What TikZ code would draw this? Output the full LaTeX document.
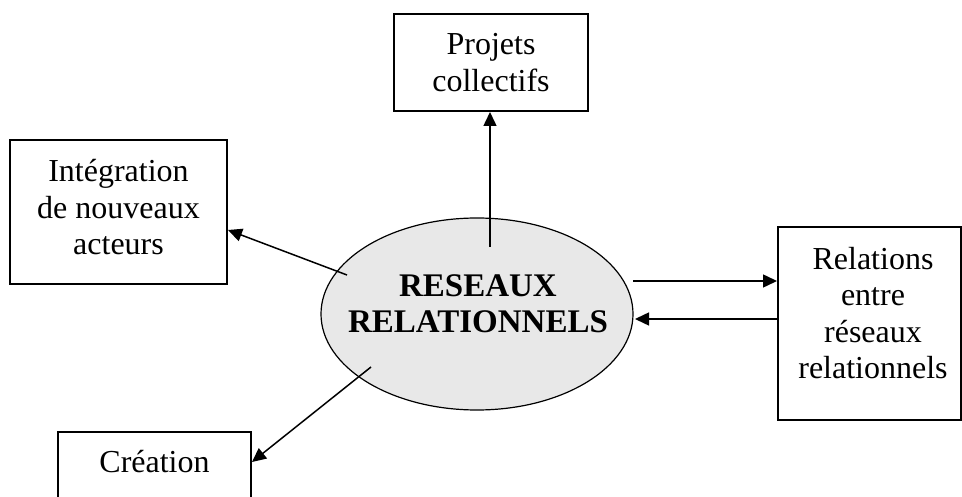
\documentclass[tikz,border=0pt]{standalone}
\usepackage{fontspec}
\setmainfont{Liberation Serif}
\usetikzlibrary{arrows.meta,shapes.geometric}
\definecolor{bubble}{RGB}{232,232,232}
\tikzset{
  box/.style={draw, line width=2pt, inner sep=0pt},
  boxtext/.style={align=center, inner sep=0pt,
    font=\fontsize{32}{36.5}\selectfont},
  link/.style={line width=1.5pt, -{Triangle[length=14pt,width=13pt]}},
}
\begin{document}
\begin{tikzpicture}[x=1pt,y=-1pt]
  \useasboundingbox (0,0) rectangle (962,497);
  \clip (0,0) rectangle (962,497);

  % central ellipse
  \node[ellipse, draw, line width=1.2pt, fill=bubble,
        minimum width=312pt, minimum height=192pt, inner sep=0pt]
        (res) at (477,314) {};
  \node[align=center, inner sep=0pt,
        font=\fontsize{33}{36}\selectfont\bfseries]
        (restxt) at (478,304) {RESEAUX\\RELATIONNELS};

  % surrounding boxes
  \node[box, minimum width=194pt, minimum height=97pt] (proj) at (491,62.5) {};
  \node[boxtext] (projtxt) at (491,62.5) {Projets\\collectifs};

  \node[box, minimum width=217pt, minimum height=144pt] (integ) at (118.5,212) {};
  \node[boxtext] (integtxt) at (118.5,207.5) {Intégration\\de nouveaux\\acteurs};

  \node[box, minimum width=183pt, minimum height=193pt] (rel) at (869.5,323.5) {};
  \node[boxtext] (reltxt) at (873,313) {Relations\\entre\\réseaux\\relationnels};

  % the last box runs past the lower edge
  \node[box, minimum width=193pt, minimum height=140pt, anchor=north]
        (crea) at (154.5,431) {};
  \node[boxtext, anchor=base] (creatxt) at (154.5,472) {Création};

  % connector start points inside the ellipse
  \coordinate (sUp)   at (490,247);
  \coordinate (sLeft) at (347,275);
  \coordinate (sDown) at (371,367);
  \coordinate (sR1)   at (633,281);
  \coordinate (eR2)   at (635,319);

  % connectors
  \draw[link] (sUp) -- (proj.south -| sUp);
  \draw[link] (sLeft) -- (integ.east |- 0,230);
  \draw[link] (sDown) -- (crea.east |- 0,462);
  \draw[link] (sR1) -- (rel.west |- sR1);
  \draw[link] (rel.west |- eR2) -- (eR2);
\end{tikzpicture}
\end{document}
